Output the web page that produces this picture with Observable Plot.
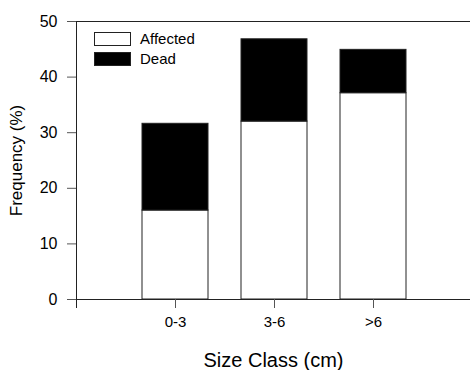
<!DOCTYPE html>
<html>
<head>
<meta charset="utf-8">
<script src="https://cdn.jsdelivr.net/npm/d3@7"></script>
<script src="https://cdn.jsdelivr.net/npm/@observablehq/plot@0.6"></script>
<style>
  html, body { margin: 0; padding: 0; background: #fff; }
  #wrap { position: relative; width: 470px; height: 370px; font-family: "Liberation Sans", Arial, sans-serif; }
  .lg { position: absolute; left: 94px; display: flex; align-items: center; font-size: 15px; color: #000; }
  .sw { width: 35px; height: 12px; border: 1px solid #222; margin-right: 9px; }
</style>
</head>
<body>
<div id="wrap"></div>
<script>
const categories = ["0-3", "3-6", ">6"];
const series = ["Affected", "Dead"];
const affected = [16.0, 32.0, 37.1];
const dead = [15.6, 14.8, 7.8];
const yTicks = [0, 10, 20, 30, 40, 50];

const rows = [];
categories.forEach((c, i) => {
  rows.push({size: c, status: "Affected", value: affected[i]});
  rows.push({size: c, status: "Dead", value: dead[i]});
});

const chart = Plot.plot({
  width: 470,
  height: 370,
  marginLeft: 76,
  marginRight: 0,
  marginTop: 21,
  marginBottom: 71,
  style: {fontFamily: "Liberation Sans, Arial, sans-serif", color: "#000", background: "#fff"},
  x: {domain: categories, range: [109, 439], padding: 1/3, align: 0.5},
  y: {domain: [0, 50]},
  color: {domain: series, range: ["#ffffff", "#000000"]},
  marks: [
    Plot.barY(rows, {x: "size", y: "value", fill: "status", stroke: "#222", strokeWidth: 1, order: series}),
    Plot.ruleY([0, 50], {stroke: "#222", strokeWidth: 1}),
    Plot.frame({anchor: "left", stroke: "#222", strokeWidth: 1, insetBottom: -8}),
    Plot.axisY({ticks: yTicks, tickSize: 9, tickPadding: 10, fontSize: 16, stroke: "#555",
      label: "Frequency (%)", labelAnchor: "center", labelArrow: "none", labelOffset: 67}),
    Plot.axisX({tickSize: 9, tickPadding: 8, fontSize: 15, stroke: "#555",
      label: "Size Class (cm)", labelAnchor: "center", labelArrow: "none", labelOffset: 67})
  ]
});
document.getElementById("wrap").appendChild(chart);

const svg = d3.select(chart);
svg.selectAll('g[aria-label="x-axis label"]').attr("font-size", 20);
svg.selectAll('g[aria-label="y-axis label"]').attr("font-size", 17);

const lg = d3.select("#wrap");
series.forEach((s, i) => {
  const row = lg.append("div").attr("class", "lg").style("top", (30 + i * 20) + "px");
  row.append("div").attr("class", "sw").style("background", i === 0 ? "#fff" : "#000");
  row.append("span").text(s);
});
</script>
</body>
</html>
